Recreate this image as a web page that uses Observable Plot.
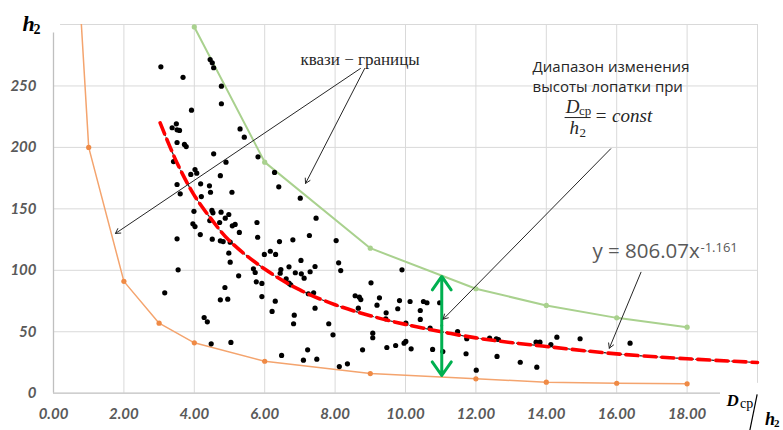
<!DOCTYPE html>
<html>
<head>
<meta charset="utf-8">
<script src="https://cdn.jsdelivr.net/npm/d3@7"></script>
<script src="https://cdn.jsdelivr.net/npm/@observablehq/plot@0.6"></script>
<style>
  html, body { margin: 0; padding: 0; background: #fff; }
  #chart svg { display: block; }
</style>
</head>
<body>
<div id="chart"></div>
<script>
// ---- data ----
const scatterX = [3.05,3.68,4.45,4.51,4.55,4.77,4.77,3.92,5.30,5.42,5.81,4.55,4.90,3.37,3.49,3.51,3.58,3.51,3.72,3.77,3.41,4.02,4.07,3.90,4.18,4.43,4.74,5.07,3.51,3.60,4.20,4.46,
  3.99,4.50,4.53,4.76,4.98,4.88,4.44,4.72,5.08,5.16,3.96,4.02,4.17,5.28,5.78,5.80,3.51,4.51,4.74,4.82,5.02,4.98,5.02,5.26,5.99,6.16,5.68,5.73,5.76,3.54,4.87,
  3.16,4.74,4.95,4.28,4.37,4.48,5.04,
  6.28,6.40,7.01,7.46,6.42,6.80,7.27,8.03,6.31,7.03,8.10,8.16,7.43,7.29,6.69,6.46,6.44,6.87,7.04,7.12,5.92,5.92,6.30,6.21,6.61,6.69,6.74,7.24,7.39,7.43,6.84,6.82,7.82,7.94,8.57,8.69,8.73,8.66,9.02,9.19,9.26,9.07,9.07,8.78,6.48,7.10,7.22,7.48,8.12,8.35,
  9.45,9.44,9.47,9.72,9.78,9.83,9.90,10.01,9.96,10.01,10.16,10.13,10.42,10.42,10.51,10.61,10.70,10.77,10.97,11.06,11.48,11.74,11.72,12.01,12.39,12.58,12.64,12.60,13.26,
  13.71,13.82,13.73,14.13,14.30,14.96,16.38];
const scatterY = [265.6,257,271.5,268.8,264.8,249.8,235.5,230.3,215,208.3,192.3,194.8,188,216,219.2,214.3,213.8,204,202.4,200.7,188.5,182,179,178,170.4,168.7,177,163.5,169.8,162.2,160,163.5,
  148,148.7,146.8,147.3,145.4,142.4,140.5,138.9,136.2,137.3,137.8,135.6,129.1,130.8,138.9,126.9,125.6,125.3,124,123.4,122.9,113.9,106.6,95.5,112.9,115.5,101.2,98.2,90.6,100.4,86,
  81.7,76,76.5,61.6,58.1,40.2,41.3,
  179.6,167.9,158.7,142.4,123.4,124.8,128.3,124.2,112.9,108,106.1,99.8,103.1,98.8,102.8,100.6,97.6,98,97.1,93.6,89.3,78.6,74.9,66.5,93.1,89.5,88.2,80.9,81.7,69.2,63.5,56.5,56.5,47.5,79.3,78.1,76.2,69.2,89.8,71.6,77.6,48.8,45.1,35.3,30.7,26.9,35.3,27.7,21.7,23.9,
  65.4,60.5,37.2,38.8,68.7,75.4,100.4,57,40.7,42.1,36.1,74.6,67.3,60,74.6,73.6,52.9,35.6,73.6,33.9,50.2,44.3,32.1,18.7,44.8,44.3,43.7,29.9,25.2,
  41.5,41.5,21.2,39.6,45.6,44.3,40.7];

// lower quasi-boundary (orange)
const lowerX = [0.5, 1, 2, 3, 4, 6, 9, 12, 14, 16, 18];
const lowerY = [440, 200, 91, 57, 41, 26, 16, 11.7, 9, 8.1, 7.6];
// upper quasi-boundary (green)
const upperX = [4, 6, 9, 12, 14, 16, 18];
const upperY = [298, 188, 118, 85, 71.4, 61.3, 53.7];
// power trendline y = 806.07x^-1.161
const trendX = [3.03, 3.5, 4, 4.5, 5, 6, 7, 8, 9, 10, 12, 14, 16, 18, 20];
const trendY = [220, 188, 161, 141, 124, 101, 84, 72, 63, 56, 45, 38, 32, 28, 25];

const xTicks = [0, 2, 4, 6, 8, 10, 12, 14, 16, 18];
const yTicks = [0, 50, 100, 150, 200, 250];

// ---- tables ----
const scatter = scatterX.map((x, i) => ({x, y: scatterY[i]}));
const lower = lowerX.map((x, i) => ({x, y: lowerY[i]}));
const upper = upperX.map((x, i) => ({x, y: upperY[i]}));
const trend = trendX.map((x, i) => ({x, y: trendY[i]}));

const serif = "'Liberation Serif', 'DejaVu Serif', serif";
const sans = "'Open Sans', 'Noto Sans', sans-serif";
const tickFont = "Lato, 'Open Sans', sans-serif";

const plot = Plot.plot({
  width: 783,
  height: 430,
  marginLeft: 53,
  marginRight: 26,
  marginTop: 24,
  marginBottom: 37.3,
  x: {domain: [0, 20]},
  y: {domain: [0, 300]},
  style: {fontFamily: tickFont, background: "#fff", overflow: "visible"},
  marks: [
    // grid
    Plot.ruleX(d3.range(2, 19, 2), {stroke: "#d9d9d9", strokeWidth: 1}),
    Plot.ruleX([20], {y1: 8, y2: 300, stroke: "#d9d9d9", strokeWidth: 1}),
    Plot.ruleY(d3.range(50, 251, 50), {stroke: "#d9d9d9", strokeWidth: 1}),
    Plot.ruleY([300], {x1: 0.2, x2: 20, stroke: "#d9d9d9", strokeWidth: 1}),
    // axis lines
    Plot.ruleX([0], {y1: 0, y2: 293, stroke: "#bfbfbf", strokeWidth: 1.3}),
    Plot.ruleY([0], {x1: 0, x2: 18.95, stroke: "#bfbfbf", strokeWidth: 1.3}),
    // tick labels
    Plot.axisX(xTicks, {tickSize: 0, tickPadding: 15, tickFormat: d3.format(".2f"), label: null,
      fontSize: 15, fontWeight: "bold", fontStyle: "italic", fill: "#595959"}),
    Plot.axisY(yTicks, {tickSize: 0, tickPadding: 17, label: null,
      fontSize: 15, fontWeight: "bold", fontStyle: "italic", fill: "#595959"}),

    // quasi-boundaries
    Plot.line(lower, {x: "x", y: "y", stroke: "#f4a46e", strokeWidth: 1.5, clip: true}),
    Plot.dot(lower, {x: "x", y: "y", r: 2.6, fill: "#ef8a45", clip: true}),
    Plot.line(upper, {x: "x", y: "y", stroke: "#a9d18e", strokeWidth: 2}),
    Plot.dot(upper, {x: "x", y: "y", r: 2.6, fill: "#a9d18e"}),

    // scatter
    Plot.dot(scatter, {x: "x", y: "y", r: 2.6, fill: "#000"}),

    // trendline (red long dashes over black dash-dot)
    Plot.line(trend, {x: "x", y: "y", curve: "catmull-rom", stroke: "#222", strokeWidth: 1.2, strokeDasharray: "2,2"}),
    Plot.line(trend, {x: "x", y: "y", curve: "catmull-rom", stroke: "#ff0000", strokeWidth: 3.6, strokeDasharray: "12,6"}),

    // green range arrow
    Plot.arrow([0], {x1: 11.03, y1: 55, x2: 11.03, y2: 95, stroke: "#00b050", strokeWidth: 3, headLength: 10, headAngle: 70}),
    Plot.arrow([0], {x1: 11.03, y1: 55, x2: 11.03, y2: 14.4, stroke: "#00b050", strokeWidth: 3, headLength: 10, headAngle: 70}),

    // annotation: квази − границы
    Plot.text(["квази − границы"], {x: 8.71, y: 267, lineAnchor: "bottom", fontFamily: serif, fontSize: 17, fill: "#262626"}),
    Plot.arrow([0], {x1: 8.72, y1: 264.2, x2: 1.76, y2: 130, stroke: "#262626", strokeWidth: 1, headLength: 8}),
    Plot.arrow([0], {x1: 8.84, y1: 264.2, x2: 7.16, y2: 170.7, stroke: "#262626", strokeWidth: 1, headLength: 8}),

    // annotation: Диапазон изменения высоты лопатки при Dcp/h2 = const
    Plot.text(["Диапазон изменения"], {x: 13.61, y: 261.2, textAnchor: "start", lineAnchor: "bottom", fontFamily: sans, fontSize: 15, fill: "#262626"}),
    Plot.text(["высоты лопатки при"], {x: 13.61, y: 244.9, textAnchor: "start", lineAnchor: "bottom", fontFamily: sans, fontSize: 15, fill: "#262626"}),
    Plot.text(["D"], {x: 14.55, y: 227.6, textAnchor: "start", lineAnchor: "bottom", fontFamily: serif, fontStyle: "italic", fontSize: 19, fill: "#262626"}),
    Plot.text(["ср"], {x: 14.93, y: 226, textAnchor: "start", lineAnchor: "bottom", fontFamily: serif, fontSize: 13, fill: "#262626"}),
    Plot.link([0], {x1: 14.52, y1: 224.3, x2: 15.26, y2: 224.3, stroke: "#262626", strokeWidth: 1}),
    Plot.text(["h"], {x: 14.66, y: 211.3, textAnchor: "start", lineAnchor: "bottom", fontFamily: serif, fontStyle: "italic", fontSize: 19, fill: "#262626"}),
    Plot.text(["2"], {x: 14.94, y: 208.5, textAnchor: "start", lineAnchor: "bottom", fontFamily: serif, fontSize: 13, fill: "#262626"}),
    Plot.text(["= const"], {x: 15.37, y: 220.3, textAnchor: "start", lineAnchor: "bottom", fontFamily: serif, fontStyle: "italic", fontSize: 19, fill: "#262626"}),
    Plot.arrow([0], {x1: 15.83, y1: 198.9, x2: 11.07, y2: 60.2, stroke: "#262626", strokeWidth: 1, headLength: 8}),

    // annotation: trendline equation
    Plot.text(["y = 806.07x"], {x: 15.31, y: 110.1, textAnchor: "start", lineAnchor: "bottom", fontFamily: sans, fontSize: 20.5, fill: "#595959"}),
    Plot.text(["-1.161"], {x: 18.38, y: 114.5, textAnchor: "start", lineAnchor: "bottom", fontFamily: sans, fontSize: 13, fill: "#595959"}),
    Plot.arrow([0], {x1: 16.69, y1: 98.4, x2: 15.79, y2: 36.6, stroke: "#262626", strokeWidth: 1, headLength: 8}),

    // axis titles
    Plot.text(["h"], {frameAnchor: "top-left", dx: -31, dy: 6, textAnchor: "start", lineAnchor: "bottom", fontFamily: serif, fontWeight: "bold", fontStyle: "italic", fontSize: 22, fill: "#000"}),
    Plot.text(["2"], {frameAnchor: "top-left", dx: -20, dy: 9.5, textAnchor: "start", lineAnchor: "bottom", fontFamily: serif, fontWeight: "bold", fontSize: 14, fill: "#000"}),
    Plot.text(["D"], {frameAnchor: "bottom-right", dx: -31, dy: 12.5, textAnchor: "start", lineAnchor: "bottom", fontFamily: serif, fontWeight: "bold", fontStyle: "italic", fontSize: 17, fill: "#000"}),
    Plot.text(["ср"], {frameAnchor: "bottom-right", dx: -17.5, dy: 15, textAnchor: "start", lineAnchor: "bottom", fontFamily: serif, fontSize: 14, fill: "#000"}),
    Plot.link([0], {x1: 19.99, y1: -1, x2: 19.78, y2: -30.5, stroke: "#000", strokeWidth: 1.2}),
    Plot.text(["h"], {frameAnchor: "bottom-right", dx: 7.5, dy: 32, textAnchor: "start", lineAnchor: "bottom", fontFamily: serif, fontWeight: "bold", fontStyle: "italic", fontSize: 18, fill: "#000"}),
    Plot.text(["2"], {frameAnchor: "bottom-right", dx: 16.5, dy: 34, textAnchor: "start", lineAnchor: "bottom", fontFamily: serif, fontWeight: "bold", fontSize: 11, fill: "#000"})
  ]
});
document.getElementById("chart").appendChild(plot);
</script>
</body>
</html>
